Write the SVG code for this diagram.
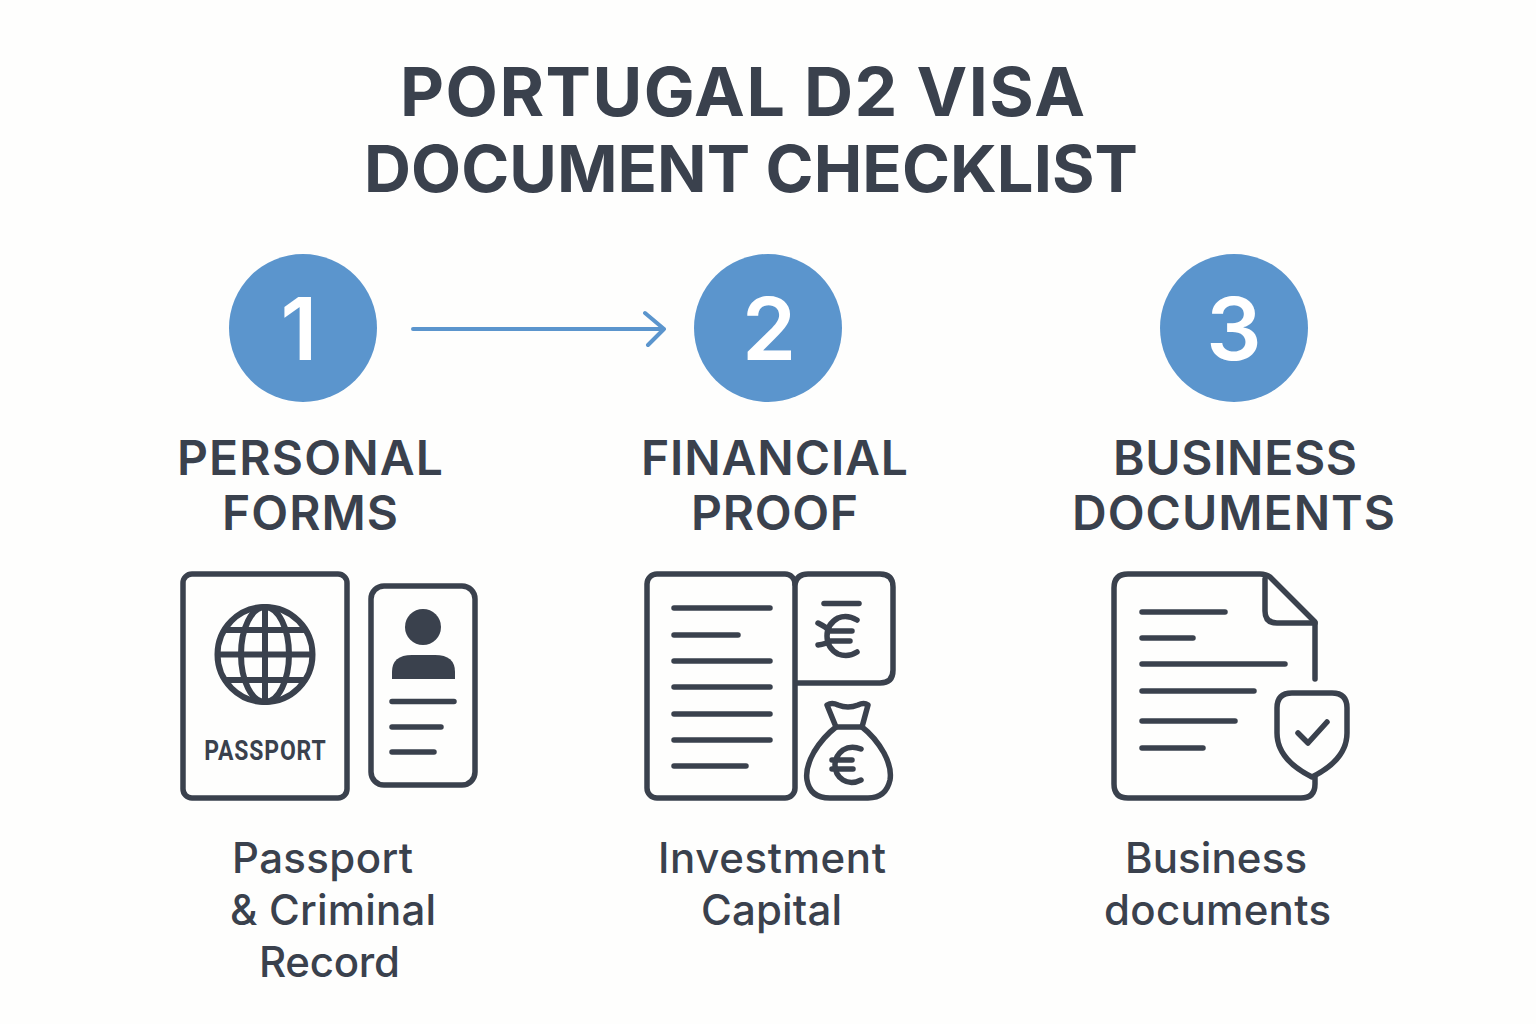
<svg xmlns="http://www.w3.org/2000/svg" width="1536" height="1024" viewBox="0 0 1536 1024">
<style>
.t{font-family:Inter,"Liberation Sans",sans-serif;fill:#3a414d}
.title{font-size:65px;font-weight:700;text-anchor:middle}
.head{font-size:48px;font-weight:600;text-anchor:middle}
.sub{font-size:42px;font-weight:500;text-anchor:middle}
.num{font-family:Inter,"Liberation Sans",sans-serif;font-size:87px;font-weight:600;fill:#fff;text-anchor:middle}
.c{fill:#5b95cd}
.i{fill:none;stroke:#3a414d;stroke-width:5.500;stroke-linecap:round;stroke-linejoin:round}
.f{fill:#3a414d}
</style>
<rect width="1536" height="1024" fill="#fefefd"/>
<g id="title">
<text class="t title" x="742.500" y="116" font-size="68" style="font-size:68px" textLength="685" lengthAdjust="spacing">PORTUGAL D2 VISA</text>
<text class="t title" x="751" y="192" textLength="774" lengthAdjust="spacing">DOCUMENT CHECKLIST</text>
</g>
<g id="connectors">
<path d="M413 329H664M645 313L664 329L648 345" fill="none" stroke="#5b95cd" stroke-width="4" stroke-linecap="round" stroke-linejoin="round"/>
</g>
<g id="node1">
<circle class="c" cx="303" cy="328" r="74"/>
<text class="num" x="299" y="360">1</text>
<text class="t head" x="310" y="475" textLength="266" lengthAdjust="spacing">PERSONAL</text>
<text class="t head" x="310" y="530" textLength="176" lengthAdjust="spacing">FORMS</text>
<rect class="i" x="183" y="574" width="164" height="224" rx="9"/>
<rect class="i" x="371" y="586" width="104" height="199" rx="13"/>
<g class="i" style="stroke-width:6">
<circle cx="265" cy="654.500" r="47.500"/>
<ellipse cx="265" cy="654.500" rx="24" ry="47.500"/>
<path d="M265 607V702M218 654.500H312M226 630H304M226 680H304"/>
</g>
<text transform="translate(265 760) scale(.82 1)" x="0" y="0" font-family="Roboto,'Liberation Sans',sans-serif" font-size="28" font-weight="700" fill="#3a414d" text-anchor="middle" textLength="148" lengthAdjust="spacing">PASSPORT</text>
<ellipse class="f" cx="423" cy="627" rx="18" ry="18"/>
<path class="f" d="M392 679V672Q392 655 412 655H435Q455 655 455 672V679Z"/>
<path class="i" d="M392 701.500H454M392 727H441M392 752H434"/>
<text class="t sub" x="322.500" y="873" textLength="181" lengthAdjust="spacing">Passport</text>
<text class="t sub" x="333" y="925" textLength="206" lengthAdjust="spacing">&amp; Criminal</text>
<text class="t sub" x="329.500" y="977" textLength="141" lengthAdjust="spacing">Record</text>
</g>
<g id="node2">
<circle class="c" cx="768" cy="328" r="74"/>
<text class="num" x="769" y="360">2</text>
<text class="t head" x="774.500" y="475" textLength="267" lengthAdjust="spacing">FINANCIAL</text>
<text class="t head" x="774.500" y="530" textLength="167" lengthAdjust="spacing">PROOF</text>
<rect class="i" x="647" y="574" width="148" height="224" rx="10"/>
<path class="i" d="M795 584Q797 574 808 574H880Q893 574 893 587V670Q893 683 880 683H797"/>
<path class="i" d="M674 608H770M674 635H738M674 661H770M674 687H770M674 714H770M674 740H770M674 766H746"/>
<path class="i" d="M824 603.500H859"/>
<path class="i" d="M857 620Q847 614 838 618Q827 624 827 636Q827 648 838 654Q848 658 857 652M818 623Q826 627 830 631H852M818 645Q826 644 830 641H850"/>
<path class="i" d="M827 705Q832 702 838 705Q848 709 858 705Q864 702 868 705L862 727Q875 737 884 753Q892 768 890 780Q886 798 868 798H830Q810 798 807 780Q805 768 814 752Q823 737 836 727Z"/>
<path class="i" d="M836 727H862"/>
<path class="i" d="M861 749Q851 745 843 750Q835 756 835 765Q835 775 843 780Q851 785 861 780M832 760H852M832 769H853"/>
<text class="t sub" x="772" y="873" textLength="228" lengthAdjust="spacing">Investment</text>
<text class="t sub" x="771.500" y="925" textLength="141" lengthAdjust="spacing">Capital</text>
</g>
<g id="node3">
<circle class="c" cx="1234" cy="328" r="74"/>
<text class="num" x="1234" y="360">3</text>
<text class="t head" x="1235" y="475" textLength="244" lengthAdjust="spacing">BUSINESS</text>
<text class="t head" x="1233.500" y="530" textLength="323" lengthAdjust="spacing">DOCUMENTS</text>
<path class="i" d="M1315 679V622L1270 577Q1266 574 1260 574H1128Q1114 574 1114 588V784Q1114 798 1128 798H1301Q1315 798 1315 784V777"/>
<path class="i" d="M1265 579V611Q1265 623 1277 623H1315"/>
<path class="i" d="M1142 612H1225M1142 638H1193M1142 664H1285M1142 691H1254M1142 721H1235M1142 748H1203"/>
<path class="i" d="M1277 708Q1277 693 1292 693H1332Q1347 693 1347 708V733C1347 753 1332 767 1312 777C1292 767 1277 753 1277 733Z"/>
<path class="i" d="M1298 733L1308 743L1327 722"/>
<text class="t sub" x="1216" y="873" textLength="182" lengthAdjust="spacing">Business</text>
<text class="t sub" x="1217.500" y="925" textLength="227" lengthAdjust="spacing">documents</text>
</g>
</svg>
